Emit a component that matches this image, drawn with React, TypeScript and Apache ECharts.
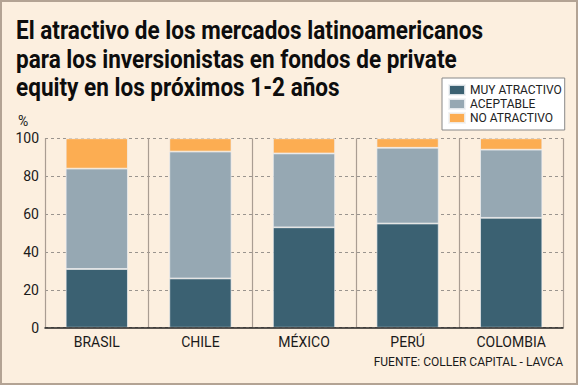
import React, { useEffect, useRef } from "react";
import * as echarts from "echarts";

const categories = ["BRASIL", "CHILE", "MÉXICO", "PERÚ", "COLOMBIA"];
const muyAtractivo = [31, 26, 53, 55, 58];
const aceptable = [53, 67, 39, 40, 36];
const noAtractivo = [16, 7, 8, 5, 6];
const seriesNames = ["MUY ATRACTIVO", "ACEPTABLE", "NO ATRACTIVO"];
const titleLines = [
  "El atractivo de los mercados latinoamericanos",
  "para los inversionistas en fondos de private",
  "equity en los próximos 1-2 años",
];
const sourceText = "FUENTE: COLLER CAPITAL - LAVCA";

const COLORS = ["#3b6172", "#96a8b3", "#fcad52"];
const BG = "#fcefdf";
const TITLE_FONT = "bold 25px Roboto";

export default function App() {
  const ref = useRef<HTMLDivElement>(null);
  useEffect(() => {
    document.body.style.margin = "0";
    if (!ref.current) return;
    let scale = 0.8;
    try {
      const ctx = document.createElement("canvas").getContext("2d");
      if (ctx) {
        ctx.font = TITLE_FONT;
        const w = ctx.measureText(titleLines[0]).width;
        if (w > 0) scale = 467 / w;
      }
    } catch (e) {}
    const chart = echarts.init(ref.current, null, { renderer: "svg" });
    const mk = (name: string, data: number[], i: number) => ({
      name,
      type: "bar",
      stack: "total",
      data,
      barWidth: "60%",
      itemStyle: { color: COLORS[i], borderColor: "rgba(240,242,245,0.85)", borderWidth: 0.8 },
    });
    chart.setOption({
      animation: false,
      backgroundColor: BG,
      textStyle: { fontFamily: "Roboto" },
      grid: { left: 45, right: 15, top: 138.3, bottom: 57.3 },
      legend: {
        orient: "vertical",
        left: 442,
        top: 78,
        data: seriesNames,
        icon: "rect",
        itemWidth: 16,
        itemHeight: 10,
        itemGap: 0,
        padding: [5, 3, 5, 6],
        backgroundColor: "#ffffff",
        borderColor: "#888888",
        borderWidth: 1,
        textStyle: { fontSize: 12, color: "#222", fontFamily: "Roboto", lineHeight: 14 },
      },
      xAxis: {
        type: "category",
        data: categories,
        boundaryGap: true,
        axisLine: { show: true, lineStyle: { color: "#222", width: 1.5 } },
        axisTick: { show: false },
        splitLine: { show: true, interval: 0, lineStyle: { color: "#a99d92", width: 1.2 } },
        axisLabel: { fontSize: 14, color: "#1a1a1a", margin: 7, fontFamily: "Roboto" },
        z: 5,
      },
      yAxis: {
        type: "value",
        min: 0,
        max: 100,
        interval: 20,
        axisLine: { show: false },
        axisTick: { show: false },
        axisLabel: { fontSize: 14, color: "#1a1a1a", margin: 6, fontFamily: "Roboto" },
        splitLine: { show: true, lineStyle: { color: "#9a948e", type: [3, 3], width: 1 } },
      },
      series: [
        mk(seriesNames[0], muyAtractivo, 0),
        mk(seriesNames[1], aceptable, 1),
        mk(seriesNames[2], noAtractivo, 2),
      ],
      graphic: [
        {
          type: "rect",
          shape: { x: 1, y: 1, width: 576, height: 383 },
          style: { fill: "none", stroke: "#b3a394", lineWidth: 2 },
          silent: true,
          z: 100,
        },
        ...titleLines.map((t, i) => ({
          type: "text",
          x: 16,
          y: 31 + i * 28.5,
          scaleX: scale,
          style: {
            text: t,
            font: TITLE_FONT,
            fill: "#0d0d0d",
            textAlign: "left",
            textVerticalAlign: "middle",
          },
        })),
        {
          type: "text",
          x: 18,
          y: 121,
          style: {
            text: "%",
            font: "14px Roboto",
            fill: "#1a1a1a",
            textAlign: "left",
            textVerticalAlign: "middle",
          },
        },
        {
          type: "text",
          x: 563,
          y: 362,
          style: {
            text: sourceText,
            font: "12px Roboto",
            fill: "#1a1a1a",
            textAlign: "right",
            textVerticalAlign: "middle",
          },
        },
      ],
    });
    return () => chart.dispose();
  }, []);
  return <div ref={ref} style={{ width: 578, height: 385 }} />;
}
